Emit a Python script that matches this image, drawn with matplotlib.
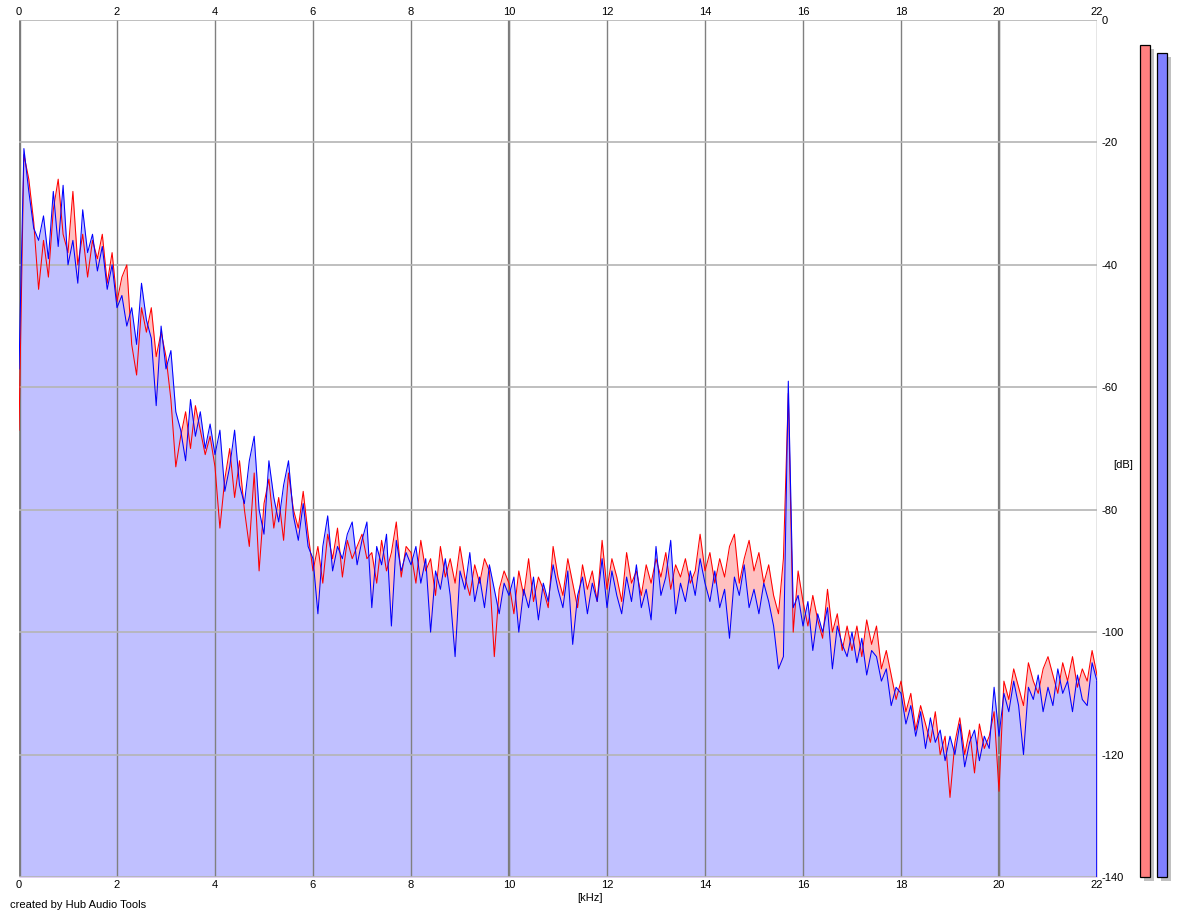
import numpy as np
import matplotlib
matplotlib.use("Agg")
import matplotlib.pyplot as plt

# fonte parecida com a do programa original
plt.rcParams['font.family'] = ['Liberation Sans', 'DejaVu Sans']
plt.rcParams['font.size'] = 8
plt.rcParams['axes.unicode_minus'] = False

# niveis do espectro (dB), um valor a cada 0.1 kHz de 0 a 22 kHz
blue_db = [
    -57, -21, -28, -34, -36, -32, -39, -28, -37, -27,
    -40, -36, -43, -31, -38, -35, -41, -37, -44, -40,
    -47, -45, -50, -47, -53, -43, -49, -52, -63, -50,
    -57, -54, -64, -67, -72, -62, -68, -64, -70, -66,
    -71, -67, -77, -73, -67, -76, -79, -72, -68, -80,
    -84, -72, -78, -82, -76, -72, -81, -85, -79, -86,
    -88, -97, -86, -81, -90, -86, -88, -84, -82, -89,
    -85, -82, -96, -86, -89, -84, -99, -85, -90, -87,
    -89, -86, -92, -88, -100, -90, -93, -88, -94, -104,
    -90, -93, -87, -95, -91, -96, -89, -93, -97, -92,
    -94, -91, -100, -93, -96, -91, -98, -92, -95, -89,
    -93, -96, -90, -102, -94, -91, -97, -92, -95, -88,
    -96, -90, -94, -97, -91, -95, -89, -96, -93, -98,
    -86, -94, -91, -85, -97, -92, -95, -90, -94, -88,
    -92, -95, -90, -96, -93, -101, -91, -94, -89, -96,
    -93, -97, -92, -95, -99, -106, -104, -59, -96, -94,
    -99, -95, -103, -97, -100, -96, -106, -99, -102, -104,
    -100, -105, -101, -107, -103, -104, -108, -106, -112, -109,
    -110, -115, -112, -117, -113, -119, -114, -118, -116, -121,
    -117, -120, -115, -122, -118, -116, -121, -117, -119, -109,
    -117, -110, -113, -108, -112, -120, -109, -111, -107, -113,
    -109, -112, -106, -110, -108, -113, -107, -111, -112, -105,
    -108,
]
red_db = [
    -67, -22, -26, -33, -44, -36, -42, -31, -26, -35,
    -38, -28, -40, -35, -42, -36, -39, -35, -43, -38,
    -46, -42, -40, -53, -58, -47, -51, -47, -55, -51,
    -55, -62, -73, -68, -64, -70, -63, -67, -71, -68,
    -73, -83, -75, -70, -78, -72, -80, -86, -74, -90,
    -79, -75, -83, -78, -85, -74, -80, -83, -77, -84,
    -90, -86, -92, -84, -88, -83, -91, -85, -88, -86,
    -84, -88, -87, -92, -85, -90, -87, -82, -91, -86,
    -87, -92, -85, -90, -88, -94, -86, -91, -88, -92,
    -86, -91, -94, -89, -92, -88, -90, -104, -93, -90,
    -92, -97, -90, -94, -88, -95, -91, -93, -96, -86,
    -91, -94, -88, -92, -96, -89, -93, -90, -95, -85,
    -93, -88, -91, -95, -87, -92, -90, -94, -89, -92,
    -88, -91, -87, -93, -89, -91, -88, -92, -90, -84,
    -90, -87, -92, -88, -91, -86, -84, -92, -88, -85,
    -90, -87, -92, -89, -94, -97, -88, -61, -100, -90,
    -95, -99, -94, -98, -101, -93, -100, -97, -103, -99,
    -103, -99, -104, -98, -102, -99, -106, -103, -107, -111,
    -108, -113, -110, -116, -112, -115, -118, -113, -120, -117,
    -127, -118, -114, -120, -116, -123, -115, -119, -117, -113,
    -126, -108, -111, -106, -109, -112, -105, -108, -110, -106,
    -104, -107, -110, -105, -108, -104, -109, -106, -108, -103,
    -107,
]
freq_khz = np.linspace(0, 22, len(blue_db))

# medidores de nivel a direita (dB)
level_db = [-4.1, -5.4]
level_colors = ['#ff8080', '#8080ff']

W, H = 1180, 917
fig = plt.figure(figsize=(W / 100, H / 100), dpi=100)
ax = fig.add_axes([19 / W, 1 - 877 / H, 1078 / W, 857 / H])

# preenchimentos: rosa embaixo do vermelho, lilas embaixo do azul
ax.fill_between(freq_khz, -140, red_db, color='#ffc0c0', lw=0, zorder=1)
ax.fill_between(freq_khz, -140, blue_db, color='#c0c0ff', lw=0, zorder=1.1)
ax.plot(freq_khz, red_db, color='#ff0000', lw=0.75, zorder=3)
ax.plot(freq_khz, blue_db, color='#0000ff', lw=0.75, zorder=3.1)
# queda vertical do azul no fim da escala
ax.vlines(freq_khz[-1], -140, blue_db[-1], color='#0000ff', lw=1.2, zorder=3.2)

ax.set_xlim(0, 22)
ax.set_ylim(-140, 0)
ax.set_xticks(np.arange(0, 23, 2))
ax.set_yticks(np.arange(-140, 1, 20))

# grade
ax.set_axisbelow(False)
ax.grid(axis='x', color='#808080', lw=1.0, zorder=2)
ax.grid(axis='y', color='#b4b4b4', lw=1.2, zorder=2)
for xv in [0, 10, 20]:
    ax.axvline(xv, color='#7a7a7a', lw=1.6 if xv else 2.4, zorder=2)

for s in ax.spines.values():
    s.set_visible(False)

ax.tick_params(axis='x', which='both', length=0, pad=2, top=True, labeltop=True)
ax.tick_params(axis='y', length=0, pad=3, left=False, labelleft=False,
               right=True, labelright=True)

fig.text(590 / W, 1 - 898 / H, '[kHz]', ha='center', va='center')
fig.text(1123 / W, 1 - 465 / H, '[dB]', ha='center', va='center')
fig.text(10 / W, 1 - 905 / H, 'created by Hub Audio Tools', ha='left', va='center')

# barras de nivel
ax2 = fig.add_axes([1130 / W, 1 - 877 / H, 50 / W, 857 / H])
ax2.set_xlim(0, 50)
ax2.set_ylim(-140, 0)
ax2.axis('off')
px = 140 / 857
bar_x = [15, 31.5]
heights = [v + 140 for v in level_db]
ax2.bar([b + 4 for b in bar_x], heights, bottom=-140 - 4 * px, width=10,
        color='#c0c0c0', lw=0, clip_on=False, zorder=1)
ax2.bar(bar_x, heights, bottom=-140, width=10, color=level_colors,
        edgecolor='black', lw=0.9, clip_on=False, zorder=2)

plt.savefig('out.png', dpi=100)
